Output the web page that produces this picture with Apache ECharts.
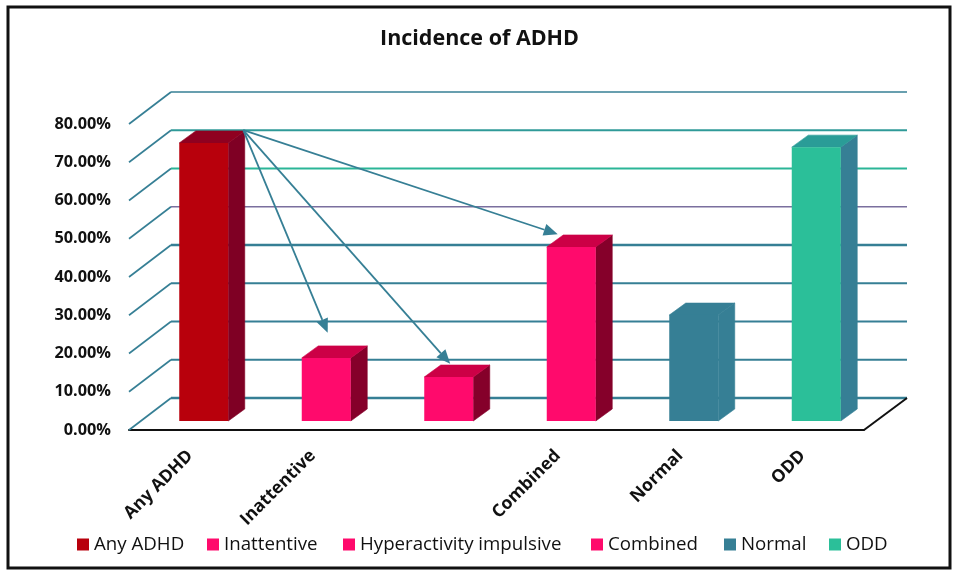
<!DOCTYPE html>
<html><head><meta charset="utf-8">
<style>html,body{margin:0;padding:0;background:#fff}#c{width:959px;height:575px}</style>
<script src="https://cdn.jsdelivr.net/npm/echarts@6/dist/echarts.min.js"></script>
</head><body><div id="c"></div>
<script>
const categories = ["Any ADHD","Inattentive","Hyperactivity impulsive","Combined","Normal","ODD"];
const xTickLabels = ["Any ADHD","Inattentive","","Combined","Normal","ODD"];
const incidence = [72.7,16.5,11.5,45.5,27.7,71.6];
const gridValues = [0,10,20,30,40,50,60,70,80];
const gridColors = ["#367f95","#367f95","#367f95","#367f95","#367f95","#7a6f9e","#2bb597","#2f9a98","#367f95"];
const gridWidths = [2.6,1.8,1.8,1.8,2.6,1.5,2,2,1.6];
const frontColors = ["#b8000c","#ff0a6c","#ff0a6c","#ff0a6c","#367f95","#2bbf99"];
const sideColors = ["#7f0024","#85002a","#85002a","#85002a","#367f95","#367f95"];
const topColors = ["#8f0020","#cc0046","#cc0046","#cc0046","#367f95","#2a9c97"];
const legendLefts = [77,207,343,591,724,829];
// arrows: [category, value, fraction of a band from the category centre]
const arrowOrigin = [0,78.4,0.433];
const arrowTips = [[1,25.4,0.122],[2,17.3,0.122],[3,51.2,0]];

const TEAL = "#367f95";
const WALL = {dx:42,dy:-32};
const PLANE = {dx:13.5,dy:-9};
const DEPTH = {dx:16.5,dy:-12};
const BAR_RATIO = 0.4;

function bar3d(i){
  return function(params,api){
    const idx=api.value(0), v=api.value(1);
    const band=api.size([1,0])[0], w=band*BAR_RATIO;
    const b=api.coord([idx,0]), t=api.coord([idx,v]);
    const xl=b[0]-w/2+PLANE.dx, xr=xl+w, yb=b[1]+PLANE.dy, yt=t[1]+PLANE.dy;
    const d=DEPTH;
    return {type:'group',children:[
      {type:'polygon',shape:{points:[[xr,yb],[xr+d.dx,yb+d.dy],[xr+d.dx,yt+d.dy],[xr,yt]]},style:{fill:sideColors[i],stroke:sideColors[i],lineWidth:0.6}},
      {type:'polygon',shape:{points:[[xl,yt],[xl+d.dx,yt+d.dy],[xr+d.dx,yt+d.dy],[xr,yt]]},style:{fill:topColors[i],stroke:topColors[i],lineWidth:0.6}},
      {type:'rect',shape:{x:xl,y:yt,width:w,height:yb-yt},style:{fill:frontColors[i]}}
    ]};
  };
}
function gridItem(params,api){
  const i=params.dataIndex, y=api.coord([0,api.value(0)])[1], cs=params.coordSys;
  const x0=cs.x, x1=cs.x+WALL.dx, x2=cs.x+cs.width+WALL.dx+1;
  return {type:'group',children:[
    {type:'line',shape:{x1:x0,y1:y,x2:x1,y2:y+WALL.dy},style:{stroke:TEAL,lineWidth:1.6}},
    {type:'line',shape:{x1:x1,y1:y+WALL.dy,x2:x2,y2:y+WALL.dy},style:{stroke:gridColors[i],lineWidth:gridWidths[i]}}
  ]};
}
function edgeItem(params,api){
  const y=api.coord([0,0])[1], cs=params.coordSys, x=cs.x+cs.width;
  return {type:'line',shape:{x1:x,y1:y,x2:x+WALL.dx+1,y2:y+WALL.dy},style:{stroke:'#111',lineWidth:2}};
}
function arrowItem(params,api){
  const band=api.size([1,0])[0];
  const s=api.coord([arrowOrigin[0],arrowOrigin[1]]); s[0]+=arrowOrigin[2]*band;
  const t=api.coord([api.value(0),api.value(1)]); t[0]+=api.value(2)*band;
  const a=Math.atan2(t[1]-s[1],t[0]-s[0]), L=14, W=6;
  const bx=t[0]-L*Math.cos(a), by=t[1]-L*Math.sin(a);
  const nx=-Math.sin(a)*W, ny=Math.cos(a)*W;
  return {type:'group',children:[
    {type:'line',shape:{x1:s[0],y1:s[1],x2:bx,y2:by},style:{stroke:TEAL,lineWidth:1.8}},
    {type:'polygon',shape:{points:[[t[0],t[1]],[bx+nx,by+ny],[bx-nx,by-ny]]},style:{fill:TEAL}}
  ]};
}
const series=[
  {type:'custom',name:'grid',silent:true,z:1,clip:false,data:gridValues.map(v=>[v]),encode:{y:0},renderItem:gridItem},
  {type:'custom',name:'edge',silent:true,z:2,clip:false,data:[[0]],encode:{y:0},renderItem:edgeItem}
];
categories.forEach((c,i)=>series.push({type:'custom',name:c,z:3,clip:false,itemStyle:{color:frontColors[i]},
  data:[[i,incidence[i]]],encode:{x:0,y:1},renderItem:bar3d(i)}));
series.push({type:'custom',name:'arrows',silent:true,z:5,clip:false,data:arrowTips,encode:{x:0,y:1},renderItem:arrowItem});

const chart=echarts.init(document.getElementById('c'),null,{renderer:'canvas'});
chart.setOption({
  animation:false,backgroundColor:'#fff',
  title:{text:'Incidence of ADHD',left:'center',top:23,textStyle:{fontFamily:'Open Sans',fontWeight:'bold',fontSize:21.5,color:'#111'}},
  grid:{left:129,right:95,top:124,bottom:145,containLabel:false},
  legend:categories.map((c,i)=>({data:[c],left:legendLefts[i],top:535,padding:0,icon:'rect',itemWidth:12,itemHeight:12,itemGap:0,selectedMode:false,
    textStyle:{fontFamily:'Open Sans',fontSize:18.7,color:'#111'}})),
  xAxis:{type:'category',data:categories,axisTick:{show:false},
    axisLine:{show:true,lineStyle:{color:'#111',width:2}},
    axisLabel:{interval:0,rotate:45,margin:23,fontFamily:'Open Sans',fontWeight:'bold',fontSize:17.5,color:'#111',
      formatter:(v,i)=>xTickLabels[i]}},
  yAxis:{type:'value',min:0,max:80,interval:10,splitLine:{show:false},axisLine:{show:false},axisTick:{show:false},
    axisLabel:{margin:18,fontFamily:'Open Sans',fontWeight:'bold',fontSize:16.3,color:'#111',formatter:v=>v.toFixed(2)+'%'}},
  graphic:[{type:'rect',z:100,silent:true,shape:{x:8,y:7,width:942,height:561},style:{fill:'none',stroke:'#111',lineWidth:3}}],
  series
});
</script></body></html>
